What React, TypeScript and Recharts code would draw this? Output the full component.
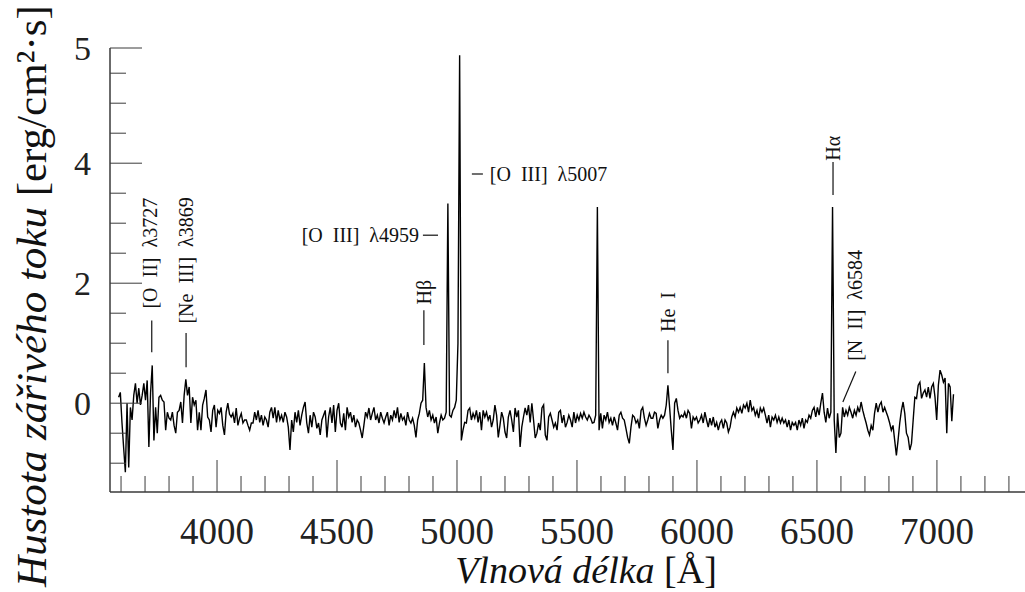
import React from 'react';
import { LineChart, Line, XAxis, YAxis, ReferenceLine, ReferenceDot } from 'recharts';

const WAVE_START = 3590;
const WAVE_STEP = 7;

// 3590–4283 Å
const fluxBlue = [
  0.1, 0.18, -0.33, -0.75, -1.15, 0.0, -1.07, -0.07, -0.28, 0.13,
  0.33, 0.0, 0.25, -0.03, 0.13, 0.33, 0.05, 0.38, -0.73, 0.17,
  0.63, -0.62, -0.07, -0.5, 0.1, 0.13, 0.05, 0.02, -0.45, -0.15,
  -0.25, -0.28, -0.15, -0.37, -0.5, -0.15, -0.12, 0.02, -0.33, 0.13,
  0.4, 0.13, 0.27, -0.33, 0.1, -0.03, 0.05, -0.45, -0.15, -0.45,
  -0.03, 0.08, 0.22, -0.23, -0.28, -0.48, -0.12, -0.03, -0.4, -0.12,
  -0.17, -0.07, -0.37, -0.53, -0.15, 0.0, -0.18, -0.23, -0.17, -0.33,
  -0.08, -0.37, -0.25, -0.17, -0.33, -0.28, -0.28, -0.37, -0.45, -0.33,
  -0.33, -0.15, -0.28, -0.12, -0.32, -0.2, -0.37, -0.23, -0.28, -0.4,
  -0.15, -0.07, -0.25, -0.07, -0.32, -0.12, -0.28, -0.2, -0.32, -0.15,
];

// 4290–4983 Å
const fluxHbeta = [
  -0.23, -0.4, -0.78, -0.28, -0.48, -0.15, -0.32, -0.12, -0.37, -0.2,
  -0.07, 0.02, -0.33, -0.5, -0.2, -0.4, -0.15, -0.23, -0.42, -0.33,
  -0.53, -0.28, -0.2, -0.12, -0.57, -0.23, -0.07, -0.33, -0.03, -0.48,
  -0.12, 0.0, -0.33, -0.4, -0.17, -0.45, -0.07, -0.23, -0.15, -0.32,
  -0.2, -0.4, -0.28, -0.33, -0.45, -0.58, -0.37, -0.15, -0.23, -0.08,
  -0.28, -0.17, -0.07, -0.28, -0.2, -0.33, -0.15, -0.25, -0.33, -0.23,
  -0.15, -0.37, -0.2, -0.28, -0.12, -0.25, -0.07, -0.32, -0.17, -0.28,
  -0.23, -0.37, -0.15, -0.28, -0.33, -0.25, -0.37, -0.57, -0.28, -0.17,
  0.0, 0.05, 0.67, -0.07, -0.23, -0.12, -0.28, -0.2, -0.33, -0.23,
  -0.5, -0.33, -0.2, -0.28, -0.25, -0.15, 3.33, -0.2, -0.23, -0.12,
];

// 4990–5683 Å
const fluxOIII = [
  -0.07, 0.05, 1.0, 5.8, -0.62, -0.45, -0.32, -0.33, -0.12, -0.08,
  -0.28, -0.17, -0.25, -0.12, -0.32, -0.15, -0.45, -0.12, -0.23, -0.15,
  -0.28, -0.2, -0.4, -0.28, -0.03, -0.2, -0.57, -0.37, -0.15, -0.25,
  -0.48, -0.58, -0.23, -0.12, -0.28, -0.48, -0.08, -0.23, -0.12, -0.73,
  -0.4, -0.23, -0.08, -0.2, -0.03, -0.32, 0.0, -0.28, -0.58, -0.5,
  -0.33, -0.45, -0.08, -0.03, -0.53, -0.62, -0.23, -0.17, -0.28, -0.4,
  -0.33, -0.45, -0.15, -0.12, -0.33, -0.2, -0.4, -0.32, -0.2, -0.28,
  -0.4, -0.15, -0.33, -0.2, -0.28, -0.17, -0.25, -0.15, -0.23, -0.28,
  -0.2, -0.25, -0.33, -0.32, -0.2, 3.27, -0.45, -0.17, -0.42, -0.2,
  -0.28, -0.15, -0.32, -0.25, -0.37, -0.23, -0.33, -0.45, -0.2, -0.15,
];

// 5690–6383 Å
const fluxHeI = [
  -0.25, -0.28, -0.42, -0.57, -0.67, -0.4, -0.2, -0.23, -0.33, -0.28,
  -0.42, -0.12, -0.07, -0.25, -0.37, -0.28, -0.17, -0.25, -0.25, -0.15,
  -0.17, -0.42, -0.28, -0.2, -0.25, -0.2, -0.03, 0.3, -0.07, -0.45,
  -0.78, 0.0, 0.08, -0.12, -0.25, -0.2, -0.23, -0.15, -0.25, -0.12,
  -0.17, -0.42, -0.23, -0.28, -0.23, -0.33, -0.28, -0.2, -0.33, -0.15,
  -0.28, -0.4, -0.25, -0.37, -0.23, -0.4, -0.32, -0.45, -0.33, -0.28,
  -0.42, -0.28, -0.33, -0.48, -0.4, -0.23, -0.15, -0.23, -0.08, -0.15,
  -0.07, -0.17, -0.03, -0.08, 0.0, -0.15, 0.05, -0.12, -0.07, -0.2,
  -0.12, -0.25, -0.08, -0.15, -0.08, -0.2, -0.33, -0.2, -0.4, -0.23,
  -0.28, -0.2, -0.32, -0.23, -0.33, -0.25, -0.33, -0.28, -0.4, -0.28,
];

// 6390–7069 Å
const fluxHalpha = [
  -0.45, -0.32, -0.37, -0.32, -0.45, -0.28, -0.37, -0.25, -0.42, -0.28,
  -0.32, -0.2, -0.25, -0.12, -0.07, -0.23, -0.07, -0.2, 0.0, 0.17,
  -0.15, -0.32, -0.08, -0.25, -0.15, 3.27, -0.28, -0.83, -0.17, -0.57,
  -0.5, -0.07, -0.23, -0.12, -0.2, -0.07, -0.15, -0.25, -0.12, -0.2,
  -0.07, -0.15, 0.02, -0.12, -0.23, -0.33, -0.45, -0.53, -0.37, -0.45,
  -0.17, 0.0, -0.15, -0.03, 0.02, -0.15, -0.07, -0.15, -0.23, -0.33,
  -0.45, -0.37, -0.62, -0.87, -0.62, -0.33, -0.12, 0.02, -0.17, -0.5,
  -0.57, -0.78, -0.67, -0.28, 0.1, 0.08, 0.3, 0.35, 0.08, 0.17,
  0.22, 0.1, 0.27, 0.08, 0.27, 0.33, 0.1, -0.28, 0.3, 0.55,
  0.47, 0.35, 0.42, -0.5, 0.33, 0.27, -0.3, 0.15,
];

const xMinorTicks = [
  3600, 3700, 3800, 3900, 4000, 4100, 4200, 4300, 4400, 4500,
  4600, 4700, 4800, 4900, 5000, 5100, 5200, 5300, 5400, 5500,
  5600, 5700, 5800, 5900, 6000, 6100, 6200, 6300, 6400, 6500,
  6600, 6700, 6800, 6900, 7000, 7100, 7200, 7300,
];
const xMajorTicks = [4000, 4500, 5000, 5500, 6000, 6500, 7000];

const Y_MIN = -1.48;
const Y_MAX = 5.92;
const yTicks = [-1, -0.5, 0, 0.5, 1, 1.5, 2, 2.5, 3, 3.5, 4, 4.5, 5, 5.5, Y_MAX];
const yMajorTicks = [0, 2, 4, Y_MAX];
const yTickLabels = ['0', '2', '4', '5'];

// labelled emission lines (double spaces as in the original typesetting)
const lineLabels = [
  '[O  II]  λ3727',
  '[Ne  III]  λ3869',
  'Hβ',
  '[O  III]  λ4959',
  '[O  III]  λ5007',
  'He  I',
  'Hα',
  '[N  II]  λ6584',
];

const spectrum = [...fluxBlue, ...fluxHbeta, ...fluxOIII, ...fluxHeI, ...fluxHalpha].map(
  (flux, i) => ({ lambda: WAVE_START + i * WAVE_STEP, flux })
);

const AXIS_COLOR = '#3a3a3a';
const SERIF = '"Liberation Serif", "DejaVu Serif", serif';

// where each annotation sits (wavelength / flux), and its pointer
const annotationLayout = [
  { text: lineLabels[0], at: [3721, 2.5], vertical: true, seg: [[3728, 0.85], [3728, 1.38]] },
  { text: lineLabels[1], at: [3871, 2.38], vertical: true, seg: [[3871, 0.6], [3871, 1.17]] },
  { text: lineLabels[2], at: [4862, 1.85], vertical: true, seg: [[4862, 0.97], [4862, 1.55]] },
  { text: lineLabels[3], at: [4842, 2.8], vertical: false, anchor: 'end', seg: [[4858, 2.8], [4921, 2.8]] },
  { text: lineLabels[4], at: [5137, 3.82], vertical: false, anchor: 'start', seg: [[5062, 3.82], [5108, 3.82]] },
  { text: lineLabels[5], at: [5879, 1.52], vertical: true, seg: [[5879, 0.5], [5879, 1.05]] },
  { text: lineLabels[6], at: [6567, 4.25], vertical: true, seg: [[6567, 3.47], [6567, 4.02]] },
  { text: lineLabels[7], at: [6658, 1.63], vertical: true, seg: [[6608, 0.02], [6662, 0.53]] },
];

const XTick = (props: any) => {
  const { x, y, payload } = props;
  const major = xMajorTicks.includes(payload.value);
  return (
    <g>
      <line x1={x} y1={y} x2={x} y2={y - (major ? 32 : 16)} stroke={AXIS_COLOR} strokeWidth={1} />
      {major && (
        <text x={x} y={y + 52} textAnchor='middle' fontSize={37} fontFamily={SERIF} fill='#222'>
          {payload.value}
        </text>
      )}
    </g>
  );
};

const YTick = (props: any) => {
  const { x, y, payload } = props;
  const idx = yMajorTicks.indexOf(payload.value);
  return (
    <g>
      <line x1={x} y1={y} x2={x + (idx >= 0 ? 32 : 16)} y2={y} stroke={AXIS_COLOR} strokeWidth={1} />
      {idx >= 0 && (
        <text x={x - 19} y={y} textAnchor='end' dominantBaseline='central' fontSize={34} fontFamily={SERIF} fill='#222'>
          {yTickLabels[idx]}
        </text>
      )}
    </g>
  );
};

const makeLabel = (text: string, vertical: boolean, anchor?: string) => (p: any) => {
  const { cx, cy } = p;
  return (
    <text
      x={cx}
      y={cy}
      transform={vertical ? `rotate(-90 ${cx} ${cy})` : undefined}
      textAnchor={vertical ? 'middle' : anchor}
      dominantBaseline='central'
      fontSize={20}
      fontFamily={SERIF}
      fill='#111'
      style={{ whiteSpace: 'pre' }}
    >
      {text}
    </text>
  );
};

const XTitle = () => (
  <text x={586} y={583} textAnchor='middle' fontSize={38} fontFamily={SERIF} fill='#111'>
    <tspan fontStyle='italic'>Vlnová délka</tspan>
    <tspan> [Å]</tspan>
  </text>
);

const YTitle = () => (
  <text
    x={31}
    y={296}
    transform='rotate(-90 31 296)'
    textAnchor='middle'
    dominantBaseline='central'
    fontSize={43}
    fontFamily={SERIF}
    fill='#111'
  >
    <tspan fontStyle='italic'>Hustota zářivého toku</tspan>
    <tspan> [erg/cm²·s]</tspan>
  </text>
);

export default function App() {
  return (
    <div style={{ position: 'absolute', left: 0, top: 0, width: 1025, height: 592, background: '#fff' }}>
      <LineChart width={1025} height={592} data={spectrum} margin={{ top: 48, right: 0, bottom: 0, left: 0 }}>
        <XAxis
          dataKey='lambda'
          type='number'
          domain={[3554, 7367]}
          allowDataOverflow
          ticks={xMinorTicks}
          interval={0}
          height={100}
          tickSize={0}
          tickMargin={0}
          tickLine={false}
          tick={<XTick />}
          axisLine={{ stroke: AXIS_COLOR, strokeWidth: 1.5 }}
          label={{ content: () => <XTitle /> }}
        />
        <YAxis
          type='number'
          domain={[Y_MIN, Y_MAX]}
          allowDataOverflow
          ticks={yTicks}
          interval={0}
          width={110}
          tickSize={0}
          tickMargin={0}
          tickLine={false}
          tick={<YTick />}
          axisLine={{ stroke: AXIS_COLOR, strokeWidth: 1.5 }}
          label={{ content: () => <YTitle /> }}
        />
        <Line
          type='linear'
          dataKey='flux'
          stroke='#000'
          strokeWidth={1.4}
          dot={false}
          isAnimationActive={false}
        />
        {annotationLayout.map((a) => (
          <ReferenceLine
            key={'seg-' + a.text}
            segment={[
              { x: a.seg[0][0], y: a.seg[0][1] },
              { x: a.seg[1][0], y: a.seg[1][1] },
            ]}
            stroke='#111'
            strokeWidth={1.2}
          />
        ))}
        {annotationLayout.map((a) => (
          <ReferenceDot
            key={'lbl-' + a.text}
            x={a.at[0]}
            y={a.at[1]}
            r={1}
            shape={makeLabel(a.text, a.vertical, a.anchor)}
          />
        ))}
      </LineChart>
    </div>
  );
}
